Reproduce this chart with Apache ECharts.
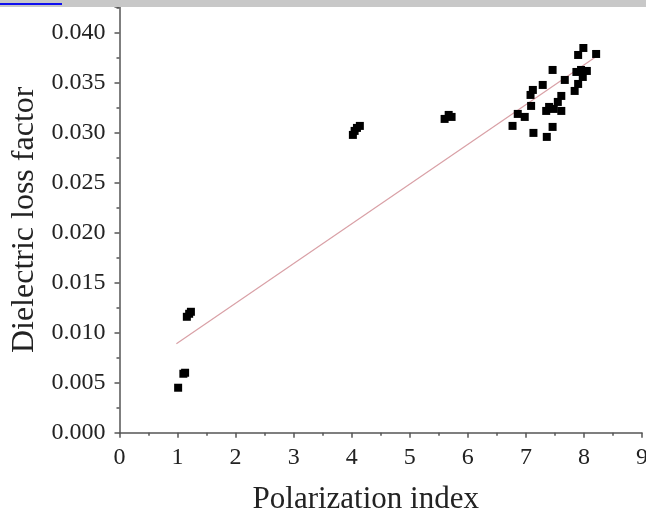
<!DOCTYPE html>
<html>
<head>
<meta charset="utf-8">
<script src="https://cdn.jsdelivr.net/npm/echarts@6/dist/echarts.min.js"></script>
<style>
  html, body { margin: 0; padding: 0; background: #fff; }
  #chart { width: 646px; height: 514px; }
</style>
</head>
<body>
<div id="chart"></div>
<script>
// polarization index (x) / dielectric loss factor (y)
const piValues = [
  1.01, 1.10, 1.13, 1.16, 1.20, 1.23,
  4.02, 4.05, 4.09, 4.14,
  5.60, 5.67, 5.72,
  7.99, 7.90, 8.21, 7.46, 7.87, 7.95, 8.05, 7.67, 7.98, 7.29, 7.90,
  7.12, 7.08, 7.84, 7.61, 7.55, 7.09, 7.40, 7.35, 7.48, 7.61,
  6.86, 6.98, 6.77, 7.46, 7.13, 7.36
];
const lossValues = [
  0.0045, 0.0059, 0.0060, 0.0116, 0.0119, 0.0121,
  0.0298, 0.0302, 0.0305, 0.0307,
  0.0314, 0.0318, 0.0316,
  0.0385, 0.0378, 0.0379, 0.0363, 0.0361, 0.0363, 0.0362, 0.0353, 0.0356, 0.0348, 0.0349,
  0.0343, 0.0338, 0.0342, 0.0337, 0.0331, 0.0327, 0.0326, 0.0322, 0.0324, 0.0322,
  0.0319, 0.0316, 0.0307, 0.0306, 0.0300, 0.0296
];
// fitted line ends
const fitX = [0.98, 8.2];
const fitY = [0.0089, 0.0376];

const points = piValues.map((x, i) => [x, lossValues[i]]);
const fitLine = fitX.map((x, i) => [x, fitY[i]]);

const serif = '"Liberation Serif", "DejaVu Serif", serif';
const axisColor = '#555';

const myChart = echarts.init(document.getElementById('chart'), null, { renderer: 'canvas' });

const option = {
  animation: false,
  backgroundColor: '#fff',
  grid: { left: 119.5, right: 4, top: 7, bottom: 81.3, outerBoundsMode: 'none' },
  xAxis: {
    type: 'value',
    min: 0,
    max: 9,
    interval: 1,
    name: 'Polarization index',
    nameLocation: 'middle',
    nameGap: 52,
    nameTextStyle: { fontFamily: serif, fontSize: 31, color: '#222', padding: [0, 30, 0, 0] },
    axisLine: { lineStyle: { color: axisColor, width: 1.5 } },
    axisTick: { show: true, length: 5, lineStyle: { color: axisColor, width: 1.5 } },
    minorTick: { show: true, splitNumber: 2, length: 3, lineStyle: { color: axisColor, width: 1.5 } },
    axisLabel: { fontFamily: serif, fontSize: 24, color: '#222', margin: 13 },
    splitLine: { show: false }
  },
  yAxis: {
    type: 'value',
    min: 0,
    max: 0.0426,
    interval: 0.005,
    name: 'Dielectric loss factor',
    nameLocation: 'middle',
    nameGap: 77,
    nameTextStyle: { fontFamily: serif, fontSize: 32, color: '#222' },
    axisLine: { onZero: false, lineStyle: { color: axisColor, width: 1.5 } },
    axisTick: { show: true, length: 5, lineStyle: { color: axisColor, width: 1.5 } },
    minorTick: { show: true, splitNumber: 2, length: 3, lineStyle: { color: axisColor, width: 1.5 } },
    axisLabel: {
      fontFamily: serif, fontSize: 24, color: '#222', margin: 14,
      showMaxLabel: false,
      formatter: v => v.toFixed(3)
    },
    splitLine: { show: false }
  },
  series: [
    {
      type: 'line',
      data: fitLine,
      symbol: 'none',
      lineStyle: { color: '#d9a0a6', width: 1.2 },
      z: 1
    },
    {
      type: 'scatter',
      data: points,
      symbol: 'rect',
      symbolSize: 8,
      itemStyle: { color: '#000', opacity: 1 },
      z: 2
    }
  ],
  graphic: [
    { type: 'rect', left: 0, top: 0, shape: { width: 646, height: 7 }, style: { fill: '#c8c8c8' }, z: 100 },
    { type: 'rect', left: 0, top: 3, shape: { width: 62, height: 2 }, style: { fill: '#1010f0' }, z: 101 }
  ]
};

myChart.setOption(option, { notMerge: true });
</script>
</body>
</html>
